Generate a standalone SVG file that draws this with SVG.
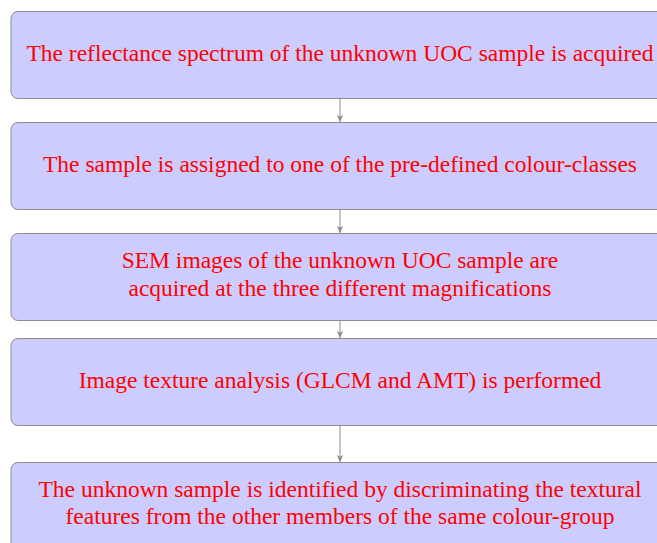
<svg xmlns="http://www.w3.org/2000/svg" width="657" height="543" viewBox="0 0 657 543">
<defs>
<style>
.box{fill:#ccccff;stroke:#8c8c8c;stroke-width:1}
.t{font-family:"Liberation Serif","Times New Roman",serif;font-size:23.5px;fill:#ff0000;text-anchor:middle}
.c{stroke:#8c8c8c;stroke-width:1;fill:none;marker-end:url(#ah)}
</style>
<marker id="ah" markerWidth="10" markerHeight="10" refX="7" refY="5" orient="auto" markerUnits="userSpaceOnUse">
<path d="M0,1.8 L7,5 L0,8.2 L1.8,5 Z" fill="#8c8c8c"/>
</marker>
</defs>
<rect width="657" height="543" fill="#ffffff"/>
<g id="connectors">
<line class="c" x1="340" y1="98.5" x2="340" y2="122"/>
<line class="c" x1="340" y1="209.5" x2="340" y2="233"/>
<line class="c" x1="340" y1="320.5" x2="340" y2="338"/>
<line class="c" x1="340" y1="425.5" x2="340" y2="462"/>
</g>
<g id="n1"><rect class="box" x="11" y="11.5" width="658" height="87" rx="7"/><text class="t" x="340" y="60.7">The reflectance spectrum of the unknown UOC sample is acquired</text></g>
<g id="n2"><rect class="box" x="11" y="122.5" width="658" height="87" rx="7"/><text class="t" x="340" y="171.7">The sample is assigned to one of the pre-defined colour-classes</text></g>
<g id="n3"><rect class="box" x="11" y="233.5" width="658" height="87" rx="7"/><text class="t" x="340" y="268.2">SEM images of the unknown UOC sample are</text><text class="t" x="340" y="295.7">acquired at the three different magnifications</text></g>
<g id="n4"><rect class="box" x="11" y="338.5" width="658" height="87" rx="7"/><text class="t" x="340" y="387.7">Image texture analysis (GLCM and AMT) is performed</text></g>
<g id="n5"><rect class="box" x="11" y="462.5" width="658" height="120" rx="7"/><text class="t" x="340" y="496.7">The unknown sample is identified by discriminating the textural</text><text class="t" x="340" y="524.2">features from the other members of the same colour-group</text></g>
</svg>
